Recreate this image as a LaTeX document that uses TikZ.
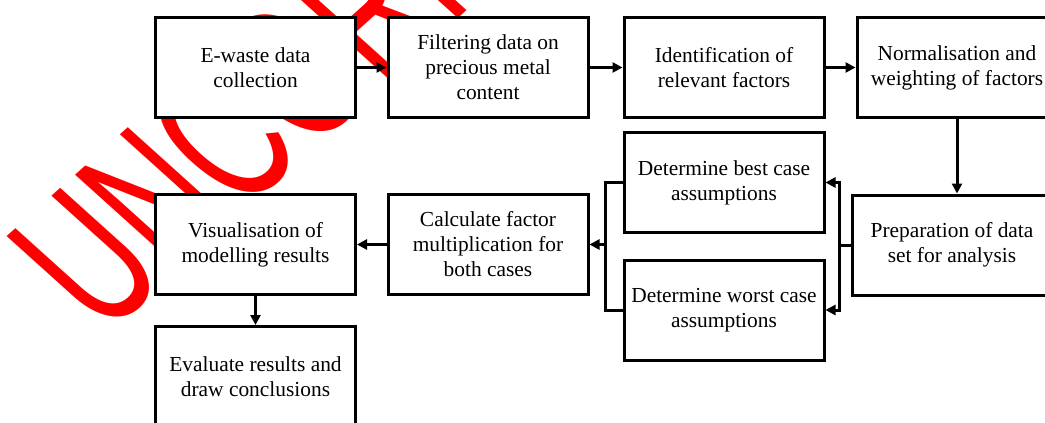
\documentclass[tikz,border=0pt]{standalone}
\usepackage{fontspec}
\setmainfont{Liberation Serif}
\newfontfamily\wmfont{Liberation Sans}
\usetikzlibrary{arrows.meta}

\begin{document}
\begin{tikzpicture}[x=1pt, y=-1pt,
    box/.style={draw, fill=white, line width=3pt, minimum width=200pt,
      minimum height=100pt, align=center, inner sep=4pt,
      font=\fontsize{21.4}{25}\selectfont},
    arr/.style={line width=3pt, -{Triangle[length=10pt,width=10pt]}},
    link/.style={line width=3pt}]
    \useasboundingbox (0,0) rectangle (1045,423);
    \clip (0,0) rectangle (1045,423);

    % proof stamp
    \begin{scope}[xscale=1.11, transform shape]
      \node[rotate=45, anchor=base west, inner sep=0, text=red] (wmark) at (93.7,337.7)
        {\wmfont\fontsize{194}{194}\selectfont\scalebox{0.62}[1]{UNCORRECTED PROOF}};
    \end{scope}

    % top row
    \node[box] (ewaste) at (255.5,67.5) {E-waste data\\collection};
    \node[box] (filter) at (488,67.5) {Filtering data on\\precious metal\\content};
    \node[box] (ident) at (724,67.5) {Identification of\\relevant factors};
    \node[box] (norm) at (957,67.5) {Normalisation and\\weighting of factors};

    % middle rows
    \node[box] (best) at (724,182.5) {Determine best case\\assumptions};
    \node[box] (worst) at (724,310) {Determine worst case\\assumptions};
    \node[box] (prep) at (952,245) {Preparation of data\\set for analysis};
    \node[box] (calc) at (488,244.5) {Calculate factor\\multiplication for\\both cases};
    \node[box] (visual) at (255.5,244.5) {Visualisation of\\modelling results};
    \node[box] (eval) at (255.5,376.5) {Evaluate results and\\draw conclusions};

    \draw[arr] (ewaste) -- (filter);
    \draw[arr] (filter) -- (ident);
    \draw[arr] (ident) -- (norm);
    \draw[arr] (norm) -- (norm |- prep.north);

    % split into both cases
    \draw[link] (prep.west) -- ++(-11,0) coordinate (pj);
    \draw[arr] (pj) |- (best);
    \draw[arr] (pj) |- (worst);

    % join again
    \draw[link] (best.west) -- ++(-17,0) coordinate (lj) |- (worst.west);
    \draw[arr] (lj |- calc) -- (calc);

    \draw[arr] (calc) -- (visual);
    \draw[arr] (visual) -- (eval);
  \end{tikzpicture}
\end{document}
